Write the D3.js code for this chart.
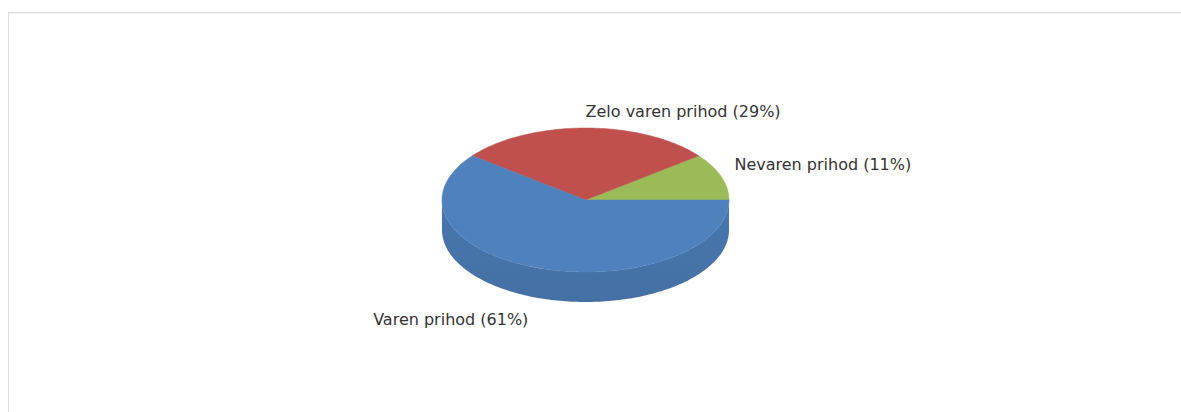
<!DOCTYPE html>
<html>
<head>
<meta charset="utf-8">
<script src="https://cdnjs.cloudflare.com/ajax/libs/d3/7.8.5/d3.min.js"></script>
<style>
  body { margin: 0; background: #fff; }
  svg { display: block; }
</style>
</head>
<body>
<svg width="1181" height="412"></svg>
<script>
const labels = ["Nevaren prihod", "Zelo varen prihod", "Varen prihod"]
const counts = [4, 11, 23]
const colors = ["#9bbb59", "#c0504d", "#4f81bd"]

const svg = d3.select("svg")
const width = 1181, height = 412

// panel frame
svg.append("rect")
  .attr("x", 8.5).attr("y", 12.5)
  .attr("width", width).attr("height", height)
  .attr("fill", "#fff")
  .attr("stroke", "#dcdcdc")
svg.append("line")
  .attr("x1", 9).attr("x2", width).attr("y1", 13.5).attr("y2", 13.5)
  .attr("stroke", "#f0f0f0")

const cx = 585.5, cy = 200, rx = 143.5, ry = 72, depth = 30

const total = d3.sum(counts)
const pie = d3.pie().sort(null).startAngle(0).endAngle(2 * Math.PI)
const arcs = pie(counts)

const pt = (t, dy) => [cx + rx * Math.cos(t), cy - ry * Math.sin(t) + (dy || 0)]
const line = d3.line()

function edge(a0, a1, dy) {
  const n = Math.max(2, Math.ceil(Math.abs(a1 - a0) / 0.02))
  return d3.range(n + 1).map(i => pt(a0 + (a1 - a0) * i / n, dy))
}

const g = svg.append("g")

// side walls (front half only: angles PI..2PI)
arcs.forEach((d, i) => {
  const a0 = Math.max(d.startAngle, Math.PI)
  const a1 = Math.min(d.endAngle, 2 * Math.PI)
  if (a1 <= a0) return
  const pts = edge(a0, a1, 0).concat(edge(a1, a0, depth))
  const base = d3.color(colors[i])
  const grad = svg.append("defs").append("linearGradient")
    .attr("id", "side" + i).attr("x1", 0).attr("x2", 0).attr("y1", 0).attr("y2", 1)
  grad.append("stop").attr("offset", "0%").attr("stop-color", base.darker(0.25))
  grad.append("stop").attr("offset", "100%").attr("stop-color", base.darker(0.4))
  g.append("path")
    .attr("d", line(pts) + "Z")
    .attr("fill", "url(#side" + i + ")")
})

// top faces
arcs.forEach((d, i) => {
  const pts = [[cx, cy]].concat(edge(d.startAngle, d.endAngle, 0))
  g.append("path")
    .attr("d", line(pts) + "Z")
    .attr("fill", colors[i])
    .attr("stroke", colors[i])
    .attr("stroke-width", 0.5)
})

// labels
arcs.forEach((d, i) => {
  const mid = (d.startAngle + d.endAngle) / 2
  const c = Math.cos(mid), s = Math.sin(mid)
  let x = cx + (rx + 14) * c
  let y = cy - (ry + 13) * s
  if (s < 0) y += depth + 9
  else y -= 4 + 4 * Math.abs(c)
  if (c < -0.05) x -= 6
  const pct = Math.round(counts[i] / total * 100)
  svg.append("text")
    .attr("x", x).attr("y", y)
    .attr("dy", "0.35em")
    .attr("text-anchor", c < -0.05 ? "end" : "start")
    .attr("font-family", "DejaVu Sans, Verdana, sans-serif")
    .attr("font-size", 16)
    .attr("fill", "#333")
    .text(labels[i] + " (" + pct + "%)")
})
</script>
</body>
</html>
